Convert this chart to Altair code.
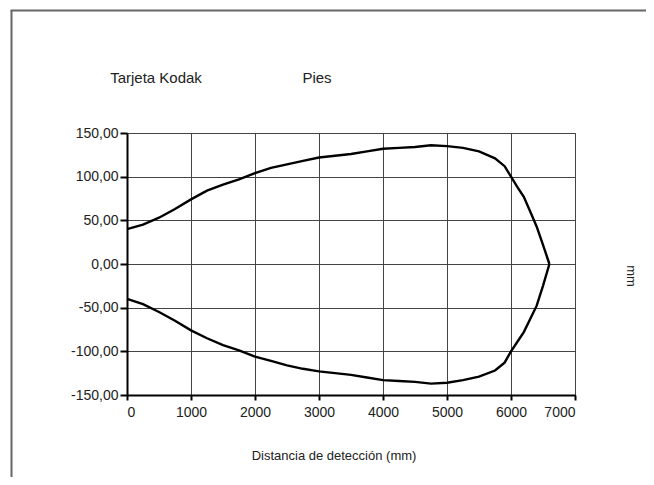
import altair as alt
import pandas as pd

# Upper branch (mm vs detection distance)
x_upper = [0, 250, 500, 750, 1000, 1250, 1500, 1750, 2000, 2250, 2500, 2750, 3000, 3250,
           3500, 3750, 4000, 4250, 4500, 4750, 5000, 5250, 5500, 5750, 5900, 6000, 6100,
           6200, 6300, 6400, 6500, 6600]
y_upper = [40, 45, 53, 63, 74, 84, 91, 97, 104, 110, 114, 118, 122, 124,
           126, 129, 132, 133, 134, 136, 135, 133, 129, 121, 112, 100, 88,
           77, 60, 43, 22, 0]

# Lower branch
x_lower = x_upper
y_lower = [-40, -46, -55, -65, -76, -85, -93, -99, -106, -111, -116, -120, -123, -125,
           -127, -130, -133, -134, -135, -137, -136, -133, -129, -122, -113, -100, -89,
           -78, -63, -48, -25, 0]

x_ticks = [0, 1000, 2000, 3000, 4000, 5000, 6000, 7000]
y_ticks = [-150, -100, -50, 0, 50, 100, 150]

FONT = "Liberation Sans"

df = pd.DataFrame({
    "x": x_upper + x_lower,
    "y": y_upper + y_lower,
    "serie": ["sup"] * len(x_upper) + ["inf"] * len(x_lower),
})

W, H = 448, 262

lines = alt.Chart(df).mark_line(color="black", strokeWidth=2.4).encode(
    x=alt.X("x:Q", scale=alt.Scale(domain=[0, 7000], nice=False),
            axis=alt.Axis(values=x_ticks, format="d", title=None, grid=True,
                          tickSize=5, labelPadding=5)),
    y=alt.Y("y:Q", scale=alt.Scale(domain=[-150, 150], nice=False),
            axis=alt.Axis(values=y_ticks, title=None, grid=True, tickSize=7,
                          labelPadding=2,
                          labelExpr="(datum.value < 0 ? '-' : '') + replace(format(abs(datum.value), '.2f'), '.', ',')")),
    detail="serie:N",
    order="x:Q",
)

def txt(s, x, y, size, angle=0, baseline="alphabetic"):
    return alt.Chart(pd.DataFrame({"t": [s]})).mark_text(
        font=FONT, fontSize=size, color="#222", align="center",
        baseline=baseline, angle=angle,
    ).encode(text="t:N", x=alt.value(x), y=alt.value(y))

t1 = txt("Tarjeta Kodak", 29, -50, 15)
t2 = txt("Pies", 190, -50, 15)
t3 = txt("mm", 504, 143, 13, angle=90, baseline="middle")
t4 = txt("Distancia de detección (mm)", 207, 327, 13)

frame_left = alt.Chart(pd.DataFrame({"a": [0]})).mark_rule(color="#666", strokeWidth=2).encode(
    x=alt.value(-115.5), y=alt.value(-122.5), y2=alt.value(400))
frame_top = alt.Chart(pd.DataFrame({"a": [0]})).mark_rule(color="#666", strokeWidth=2).encode(
    x=alt.value(-116.5), x2=alt.value(620), y=alt.value(-122.5))

chart = alt.layer(lines, t1, t2, t3, t4, frame_left, frame_top).properties(
    width=W, height=H,
    autosize="none",
    padding={"left": 119, "top": 125, "right": 71, "bottom": 82},
).configure_view(
    stroke="#555", strokeWidth=1,
).configure_axis(
    labelFont=FONT, labelFontSize=14, labelColor="#222",
    gridColor="#444", gridWidth=1, gridOpacity=1,
    domainColor="black", domainWidth=2,
    tickColor="black", tickWidth=2,
)

chart.save("out.html", embed_options={"renderer": "svg", "actions": False})
